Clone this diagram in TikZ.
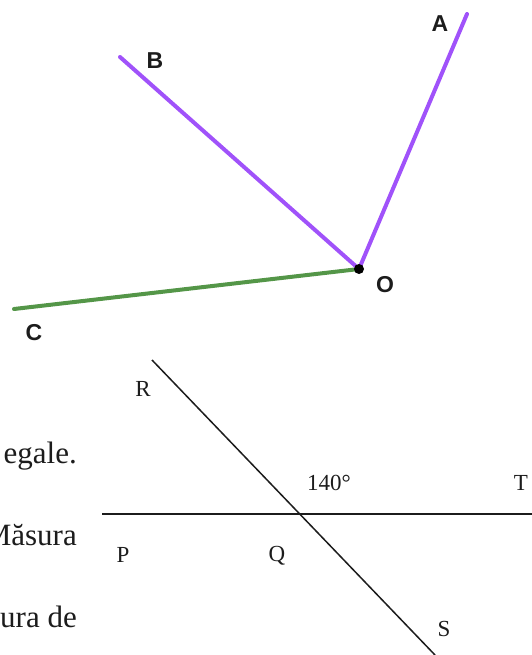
\documentclass[tikz,border=0pt]{standalone}
\usepackage{fontspec}
\setmainfont{Liberation Serif}
\newfontfamily\ptsans{Liberation Sans}
\definecolor{ggpurple}{RGB}{160,82,250}
\definecolor{gggreen}{RGB}{84,150,72}
\definecolor{ggdark}{RGB}{28,28,28}
\usetikzlibrary{positioning}
\tikzset{
  rayline/.style={line width=4pt,line cap=round},
  geoline/.style={line width=1.5pt,draw=ggdark},
  ptlabel/.style={font=\ptsans\bfseries\fontsize{23}{26}\selectfont,text=ggdark,inner sep=0pt},
  serlabel/.style={font=\fontsize{23}{26}\selectfont,text=ggdark,inner sep=0pt},
  textpart/.style={font=\fontsize{31}{34}\selectfont,text=ggdark,inner sep=0pt,anchor=base east}
}
\begin{document}
\begin{tikzpicture}[x=1pt,y=-1pt]
  \useasboundingbox (0,0) rectangle (532,655);
  \clip (0,0) rectangle (532,655);
  %% Angles around O
  \coordinate (O) at (359,269);
  \coordinate (A) at (467,14);
  \coordinate (B) at (120,57);
  \coordinate (C) at (14,309);
  \draw[rayline,draw=gggreen] (O) -- (C);
  \draw[rayline,draw=ggpurple] (O) -- (A);
  \draw[rayline,draw=ggpurple] (O) -- (B);
  \fill[black] (O) circle (5pt);
  \node[ptlabel] (labA) at (440,24) {A};
  \node[ptlabel] (labB) at (155,61) {B};
  \node[ptlabel] (labO) at (385,285) {O};
  \node[ptlabel] (labC) at (34,333) {C};
  %% Text cut at the left edge
  \node[textpart] (txt1) at (77,463) {egale.};
  \node[textpart] (txt2) at (77,545) {Măsura};
  \node[textpart] (txt3) at (77,627) {ura de};
  %% Lines PT and RS
  \coordinate (P) at (102,514);
  \coordinate (T) at (532,514);
  \coordinate (R) at (152,360);
  \coordinate (S) at (435,655);
  \draw[geoline] (P) -- (T);
  \draw[geoline] (R) -- (S);
  \node[serlabel] (labR) at (143,389) {R};
  \node[serlabel] (ang) at (329,483) {140°};
  \node[serlabel] (labT) at (521,483) {T};
  \node[serlabel] (labP) at (123,555) {P};
  \node[serlabel] (labQ) at (277,556) {Q};
  \node[serlabel] (labS) at (444,629) {S};
\end{tikzpicture}
\end{document}
